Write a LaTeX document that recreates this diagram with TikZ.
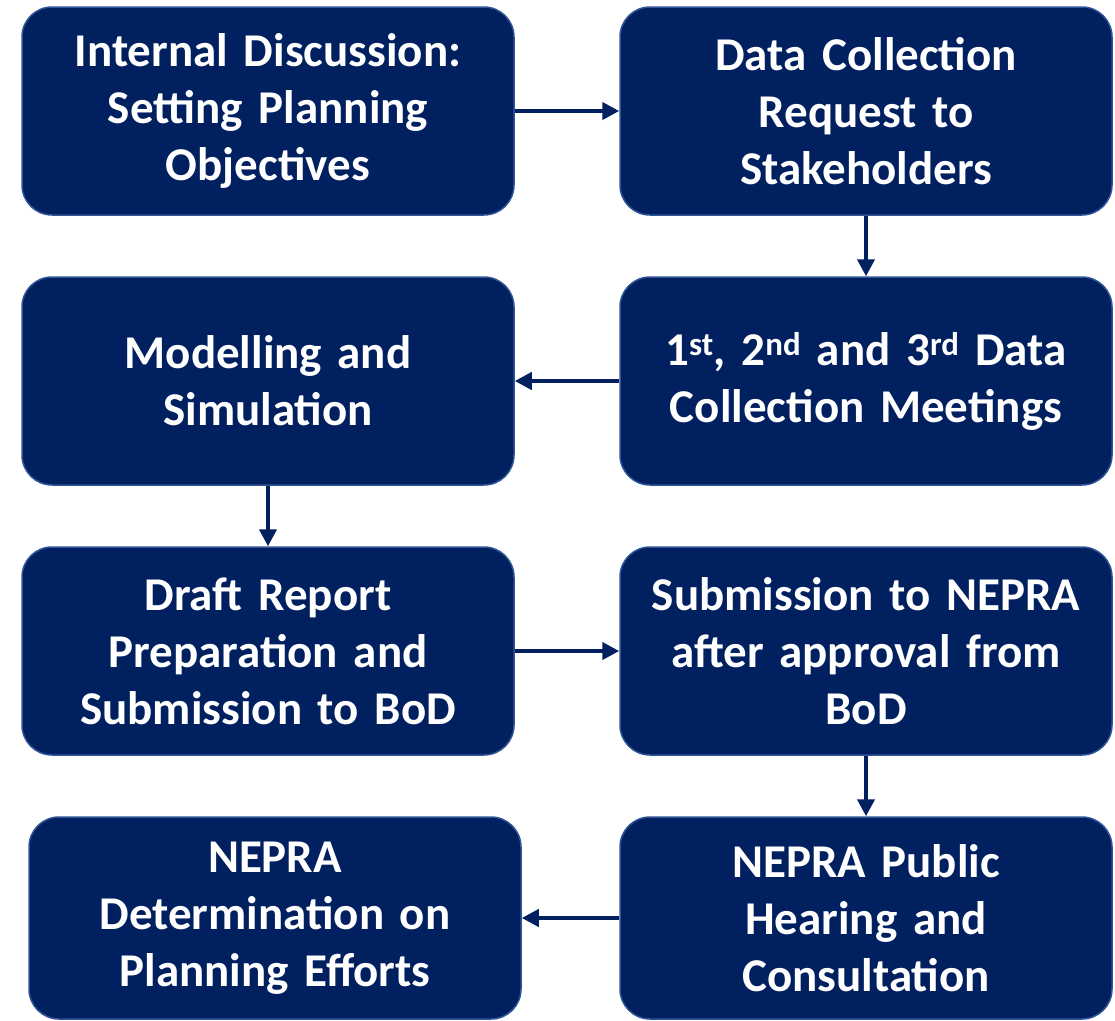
\documentclass[tikz,border=0pt]{standalone}
\usepackage{fontspec}
\setmainfont{Carlito}
\usetikzlibrary{arrows.meta}
\usetikzlibrary{positioning}
\definecolor{navy}{HTML}{002060}
\definecolor{rim}{HTML}{2F5597}

\begin{document}
\begin{tikzpicture}[x=1pt,y=-1pt,->,>={Triangle[length=17pt,width=17pt]},
    line width=4pt,draw=navy,
    step box/.style={rectangle,rounded corners=30pt,draw=rim,line width=1.5pt,fill=navy,
      text=white,font=\fontsize{47}{57}\selectfont\bfseries,align=center,
      text width=480pt,minimum width=492pt,minimum height=208pt,inner sep=0pt}]
   \useasboundingbox (0,0) rectangle (1115,1020);
   \begin{scope}
     \node[step box] (disc) at (268,111) {Internal Discussion:\\Setting Planning\\Objectives};
     \node[step box] (req) at (866,111) {Data Collection\\Request to\\Stakeholders};
     \node[step box] (meet) at (866,381) {1\textsuperscript{st}, 2\textsuperscript{nd} and 3\textsuperscript{rd} Data\\Collection Meetings};
     \node[step box] (model) at (268,381) {Modelling and\\Simulation};
     \node[step box] (draft) at (268,651) {Draft Report\\Preparation and\\Submission to BoD};
     \node[step box] (sub) at (866,651) {Submission to NEPRA\\after approval from\\BoD};
     \node[step box,minimum height=202pt] (hear) at (866,918) {NEPRA Public\\Hearing and\\Consultation};
     \node[step box,minimum height=202pt] (det) at (275,918) {NEPRA\\Determination on\\Planning Efforts};
      \path[navy] (disc) edge (req);
      \path[navy] (req) edge (meet);
      \path[navy] (meet) edge (model);
      \path[navy] (model) edge (draft);
      \path[navy] (draft) edge (sub);
      \path[navy] (sub) edge (hear);
      \path[navy] (hear) edge (det);
   \end{scope}
\end{tikzpicture}
\end{document}
